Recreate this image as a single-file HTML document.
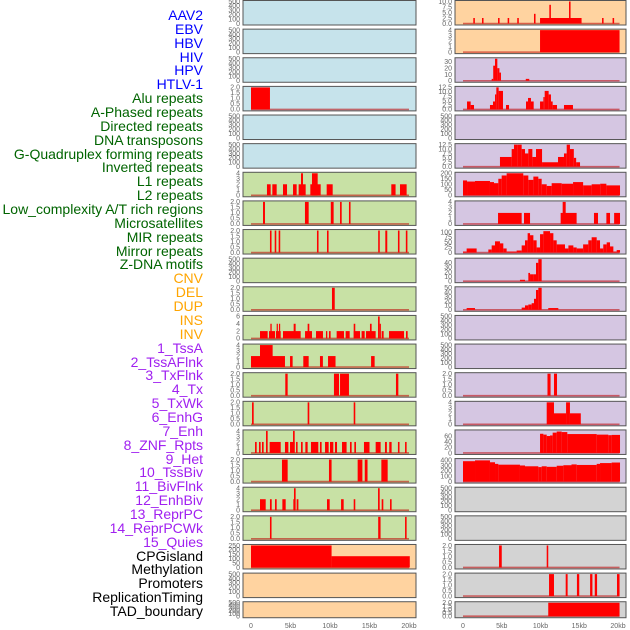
<!DOCTYPE html>
<html><head><meta charset="utf-8">
<style>
html,body{margin:0;padding:0;background:#fff;}
#wrap{position:relative;width:630px;height:630px;overflow:hidden;}
.lab{position:absolute;right:427px;font-family:"Liberation Sans",sans-serif;font-size:14px;white-space:nowrap;line-height:14px;}
svg text{font-family:"Liberation Sans",sans-serif;}
</style></head>
<body>
<div id="wrap">
<div id="labels"></div>
<svg id="svg" width="630" height="630"></svg>
</div>
<script>
// ---- labels ----
const labelNames = ["AAV2","EBV","HBV","HIV","HPV","HTLV-1","Alu repeats","A-Phased repeats","Directed repeats","DNA transposons","G-Quadruplex forming repeats","Inverted repeats","L1 repeats","L2 repeats","Low_complexity A/T rich regions","Microsatellites","MIR repeats","Mirror repeats","Z-DNA motifs","CNV","DEL","DUP","INS","INV","1_TssA","2_TssAFlnk","3_TxFlnk","4_Tx","5_TxWk","6_EnhG","7_Enh","8_ZNF_Rpts","9_Het","10_TssBiv","11_BivFlnk","12_EnhBiv","13_ReprPC","14_ReprPCWk","15_Quies","CPGisland","Methylation","Promoters","ReplicationTiming","TAD_boundary"];
const labelGroups = [6,13,5,15,5];
const groupColors = ["#0000ff","#006400","#ffa500","#a020f0","#000000"];

// ---- tick sets ----
const ticksEmpty = [0,100,200,300,400,500];
const ticks2 = [0,0.5,1.0,1.5,2.0];
const ticks4 = [0,1,2,3,4];
const ticks6 = [0,2,4,6];
const ticks10 = [0,2.5,5.0,7.5,10.0];
const ticks125 = [0,2.5,5.0,7.5,10.0,12.5];
const ticks30 = [0,10,20,30];
const ticks40 = [0,10,20,30,40];
const ticks50 = [0,10,20,30,40,50];
const ticks60 = [0,20,40,60];
const ticks100 = [0,25,50,75,100];
const ticks200 = [0,50,100,150,200];
const ticks250 = [0,50,100,150,200,250];
const ticks400 = [0,100,200,300,400];

// ---- series: [startKb, endKb, value] ----
const L3 = [[0,2.4,2]];
const L6 = [[2.02,2.49,2],[2.7,3.25,2],[4.05,4.56,2],[5.32,5.78,2],[6.03,6.92,2],[6.33,6.58,4],[7.51,8.82,2],[7.72,8.44,4],[9.58,10.34,2],[17.76,18.3,2],[18.86,19.7,2]];
const L7 = [[1.52,1.77,2],[6.83,7.3,2],[10.1,10.46,2],[11.27,11.48,2],[12.4,12.6,2]];
const L8 = [[2.4,2.6,2],[3.0,3.2,2],[3.5,3.7,2],[8.35,8.55,2],[9.62,9.82,2],[16.1,16.3,2],[17.0,17.25,2],[18.6,18.8,2],[19.6,19.8,2]];
const L10 = [[10.25,10.6,2]];
const L11 = [[1.14,2.11,2],[2.28,3.04,2],[2.45,2.62,4],[3.16,3.76,2],[3.25,3.38,4],[3.54,3.67,4],[4.05,6.29,2],[5.4,5.65,4],[6.84,7.72,2],[7.17,7.38,4],[8.23,9.11,2],[9.49,9.66,2],[9.87,10.08,2],[10.84,11.77,2],[11.98,12.49,2],[13.0,13.8,2],[13.0,13.2,4],[14.0,14.39,2],[14.56,15.78,2],[15.06,15.27,4],[16.08,16.29,6],[16.29,16.41,4],[16.54,16.79,2],[17.47,19.37,2],[19.62,19.83,2]];
const L12 = [[0,4.3,2],[1.14,2.74,4],[4.94,5.27,2],[6.62,7.3,2],[8.73,9.1,2],[9.75,10.7,2],[15.2,15.65,2]];
const L13 = [[4.34,4.64,2],[10.5,11.14,2],[11.27,12.4,2],[18.35,18.65,2]];
const L14 = [[0.13,0.34,2],[7.17,7.38,2],[13.0,13.2,2]];
const L15 = [[0.51,0.72,2],[1.01,1.22,2],[1.39,1.6,2],[1.9,2.11,4],[2.36,3.76,2],[4.3,4.73,2],[4.94,5.53,2],[5.32,5.53,4],[5.7,5.9,2],[6.33,6.54,2],[6.88,7.17,2],[7.59,8.52,2],[8.73,8.94,2],[9.37,9.83,2],[10.0,10.42,2],[10.63,10.89,2],[11.52,12.1,2],[12.53,12.74,2],[13.08,13.29,2],[14.3,15.0,2],[15.78,16.41,2],[16.96,17.2,2],[17.5,17.8,2],[18.6,18.8,2],[19.5,19.7,2]];
const L16 = [[3.92,4.64,2],[9.87,10.2,2],[13.5,14.1,2],[14.4,14.75,2],[16.5,17.3,2]];
const L17 = [[1.14,1.86,2],[2.4,2.62,2],[3.04,3.25,2],[3.97,4.39,2],[5.36,5.57,2],[5.44,5.65,4],[5.78,6.0,2],[9.62,9.96,2],[11.4,11.73,2],[13.0,13.2,2],[16.08,16.29,4],[16.54,16.75,2],[17.6,17.8,2]];
const L18 = [[2.4,2.6,2],[16.1,16.4,2],[19.5,19.7,2]];
const L19 = [[0,10.2,250],[10.2,20.1,128]];

const R0 = [[1.33,1.53,2.5],[2.45,2.65,2.5],[4.52,4.72,2.5],[5.76,5.96,2.5],[7.0,7.2,2.5],[9.16,9.36,4.4],[9.94,15.3,2.5],[11.14,11.34,8.5],[13.68,13.88,10],[17.94,18.14,2.5],[19.3,19.5,2.5]];
const R1 = [[9.94,20.2,4]];
const R2 = [[3.7,3.9,3],[3.9,4.13,24],[4.13,4.43,35],[4.43,4.7,20],[4.7,4.9,13],[8.1,8.55,3]];
const R3 = [[0.52,0.99,4.5],[0.99,1.42,2.5],[3.48,3.87,2.5],[3.87,4.13,4.5],[4.13,4.3,8.5],[4.3,4.6,12.5],[4.6,5.16,10.5],[5.55,5.94,2.5],[8.13,8.39,4.5],[8.39,8.77,6.5],[8.77,9.12,4.5],[9.94,10.37,4.5],[10.37,10.54,7],[10.54,11.05,10.5],[11.05,11.35,8.5],[11.35,11.57,4.5],[11.57,12.13,2.5],[13.03,14.19,2.5]];
const R5 = [[4.77,6.28,5.5],[6.28,6.58,10],[6.58,7.01,12.5],[7.01,7.57,12.5],[7.57,8.0,10],[8.0,8.43,7.5],[8.43,8.95,10],[8.95,9.42,5.5],[9.42,10.2,10],[10.2,12.26,2.5],[12.26,13.03,5.5],[13.03,13.38,7.5],[13.38,13.8,12.5],[13.8,14.3,10],[14.3,14.6,5],[14.6,15.1,2.5]];
const R6 = [[0,0.52,135],[0.52,1.55,125],[1.55,3.48,130],[3.48,4.0,120],[4.0,4.56,110],[4.56,4.99,150],[4.99,5.63,180],[5.63,7.78,200],[7.78,8.43,180],[8.43,9.08,140],[9.08,9.72,170],[9.72,10.15,150],[10.15,10.8,100],[10.8,11.44,85],[11.44,12.73,110],[12.73,14.2,105],[14.2,15.5,120],[15.5,16.6,90],[16.6,17.7,100],[17.7,18.5,105],[18.5,20.26,90]];
const R7 = [[4.52,7.57,2],[7.87,8.65,2],[12.6,14.66,2],[12.86,13.25,4],[16.9,17.42,2],[18.5,18.97,2],[19.5,20.26,2]];
const R8 = [[0,0.47,5],[0.47,1.76,20],[3.27,3.7,15],[3.7,4.13,35],[4.13,4.77,55],[4.77,5.2,45],[5.2,5.63,20],[5.63,6.92,5],[6.92,7.57,10],[7.57,8.0,35],[8.0,8.34,60],[8.34,8.65,95],[8.65,9.08,85],[9.08,9.5,60],[9.5,9.94,25],[9.94,10.37,90],[10.37,11.23,105],[11.23,11.66,95],[11.66,12.09,60],[12.09,13.16,40],[13.16,13.6,20],[13.6,14.24,35],[14.24,14.67,25],[14.67,15.5,20],[15.5,16.17,40],[16.17,16.6,60],[16.6,17.25,75],[17.25,17.68,60],[17.68,18.1,20],[18.1,18.54,40],[18.54,18.97,50],[18.97,19.4,30],[19.4,19.83,5],[19.83,20.26,12]];
const R9 = [[7.35,8.0,3],[8.43,8.65,18],[8.65,9.08,15],[9.08,9.42,15],[9.42,9.72,40],[9.72,10.15,48]];
const R10 = [[0.47,1.55,4],[7.57,8.0,5],[8.0,8.43,10],[8.43,8.86,12],[8.86,9.16,15],[9.16,9.42,25],[9.42,9.72,45],[9.72,10.15,50],[11.0,12.3,4]];
const R13 = [[10.9,11.3,2],[11.74,12.13,2]];
const R14 = [[10.8,11.74,4],[11.74,13.3,2],[13.3,13.8,4],[13.8,15.2,2]];
const R15 = [[9.94,10.37,68],[10.37,10.8,65],[10.8,11.23,60],[11.23,11.57,62],[11.57,12.09,72],[12.09,12.73,76],[12.73,13.46,74],[13.46,17.25,67],[17.25,18.75,65],[18.75,19.18,63],[19.18,20.26,64]];
const R16 = [[0,1.55,380],[1.55,3.48,395],[3.48,4.13,360],[4.13,4.56,330],[4.56,7.35,315],[7.35,8.0,300],[8.0,9.72,285],[9.72,10.15,270],[10.15,10.8,285],[10.8,12.09,275],[12.09,12.95,295],[12.95,14.0,305],[14.0,14.67,320],[14.67,17.25,310],[17.25,17.68,330],[17.68,19.18,345],[19.18,20.26,355]];
const R19 = [[4.65,5.0,2],[10.8,11.0,2]];
const R20 = [[11.1,11.74,2],[13.25,13.5,2],[14.7,15.0,2],[16.4,16.7,2],[17.0,17.3,2],[19.87,20.2,2]];
const R21 = [[11.0,20.2,2]];

const xTickLabels = ["0","5kb","10kb","15kb","20kb"];
const xTickValues = [0,5,10,15,20];

const BLUE="#c6e3eb", PEACH="#ffd3a0", PURP="#d5c6e2", GREEN="#c8e1a5", GRAY="#d3d3d3";
const leftPanels = [
 [BLUE,ticksEmpty,null],[BLUE,ticksEmpty,null],[BLUE,ticksEmpty,null],[BLUE,ticks2,L3],[BLUE,ticksEmpty,null],[BLUE,ticksEmpty,null],
 [GREEN,ticks4,L6],[GREEN,ticks2,L7],[GREEN,ticks2,L8],[GREEN,ticksEmpty,null],[GREEN,ticks2,L10],[GREEN,ticks6,L11],[GREEN,ticks4,L12],
 [GREEN,ticks2,L13],[GREEN,ticks2,L14],[GREEN,ticks4,L15],[GREEN,ticks2,L16],[GREEN,ticks4,L17],[GREEN,ticks2,L18],
 [PEACH,ticks250,L19],[PEACH,ticksEmpty,null],[PEACH,ticksEmpty,null]];
const rightPanels = [
 [PEACH,ticks10,R0],[PEACH,ticks4,R1],[PURP,ticks30,R2,35],[PURP,ticks125,R3],[PURP,ticksEmpty,null],[PURP,ticks125,R5],[PURP,ticks200,R6],
 [PURP,ticks4,R7],[PURP,ticks100,R8,108],[PURP,ticks40,R9,48],[PURP,ticks50,R10],[PURP,ticksEmpty,null],[PURP,ticksEmpty,null],[PURP,ticks2,R13],
 [PURP,ticks4,R14],[PURP,ticks60,R15,78],[PURP,ticks400,R16,410],[GRAY,ticksEmpty,null],[GRAY,ticksEmpty,null],[GRAY,ticks2,R19],[GRAY,ticks2,R20],[GRAY,ticks2,R21]];

// ---- build labels ----
const labDiv = document.getElementById('labels');
let gi=0, gc=0;
labelNames.forEach((n,i)=>{
  const d=document.createElement('div');
  d.className='lab';
  
  
  d.style.top=(8+i*13.86)+'px';
  d.style.color=groupColors[gi];
  d.textContent=n;
  labDiv.appendChild(d);
  gc++; if(gc>=labelGroups[gi]){gi++;gc=0;}
});

// ---- build panels ----
const NS="http://www.w3.org/2000/svg";
const svg=document.getElementById('svg');
function mk(tag,attrs){const e=document.createElementNS(NS,tag);for(const k in attrs)e.setAttribute(k,attrs[k]);return e;}
const cols=[{x0:243,x1:416,zx:251,sx:7.9,tx:240,base:20.0,panels:leftPanels,name:'left'},
            {x0:455,x1:626,zx:463,sx:7.75,tx:452,base:20.2,panels:rightPanels,name:'right'}];
cols.forEach(c=>{
  c.panels.forEach((p,i)=>{
    const top=i*28.63+0.5, h=(i==21?16:24.5);
    const g=mk('g',{});
    
    
    svg.appendChild(g);
    const r=mk('rect',{x:c.x0,y:top,width:c.x1-c.x0,height:h,fill:p[0],stroke:'#555','stroke-width':1});
    
    
    g.appendChild(r);
    const ticks=p[1];
    const ymax=p[3]||ticks[ticks.length-1];
    const y0=top+h-1.5, y1=top+1;
    const ys=v=>y0-(v/ymax)*(y0-y1);
    const xs=k=>c.zx+k*c.sx;
    ticks.forEach(t=>{
      const tx=mk('text',{x:c.tx,y:ys(t)+2.3,'font-size':7,fill:'#666','text-anchor':'end'});
      
      
      tx.textContent=(ticks===ticks2||ticks===ticks10||ticks===ticks125)?t.toFixed(1):String(t);
      g.appendChild(tx);
    });
    if(p[2]){
      const bl=mk('line',{x1:xs(0),x2:xs(c.base),y1:y0,y2:y0,stroke:'rgba(190,0,0,0.55)','stroke-width':1.6});
      
      
      g.appendChild(bl);
      p[2].forEach(s=>{
        const x=xs(s[0]), w=Math.max(1.2,xs(s[1])-x);
        const b=mk('rect',{x:x,y:ys(s[2]),width:w,height:y0-ys(s[2]),fill:'#ff0000'});
        
        
        g.appendChild(b);
      });
    }
  });
  xTickValues.forEach((v,j)=>{
    const t=mk('text',{x:c.zx+v*c.sx,y:628,'font-size':7,fill:'#666','text-anchor':'middle'});
    
    
    t.textContent=xTickLabels[j];
    svg.appendChild(t);
  });
});
</script>
</body></html>
